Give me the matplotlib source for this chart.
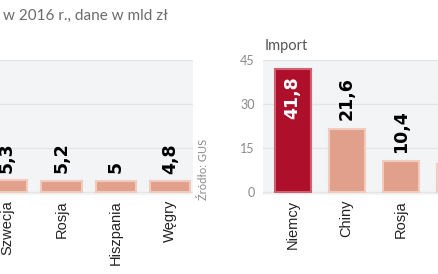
import matplotlib
matplotlib.use("Agg")
import matplotlib.pyplot as plt

# data
export_countries = ["Szwecja", "Rosja", "Hiszpania", "Węgry"]
export_values = [5.3, 5.2, 5.0, 4.8]
export_labels = ["5,3", "5,2", "5", "4,8"]

import_countries = ["Niemcy", "Chiny", "Rosja", "Włochy"]
import_values = [41.8, 21.6, 10.4, 9.6]
import_labels = ["41,8", "21,6", "10,4", "9,6"]
import_ticks = [0, 15, 30, 45]

BG = "#f3f4f5"
GRID = "#e3e5e7"
SALMON = "#e0a08b"
SALMON_EDGE = "#f1cbbd"
DARK_RED = "#ae0f2b"
GRAY = "#6b6b6b"

W, H = 439, 274
fig = plt.figure(figsize=(W / 100, H / 100), dpi=100)


def px(x0, y0, x1, y1):
    # pixel box -> figure fraction rect
    return [x0 / W, 1 - y1 / H, (x1 - x0) / W, (y1 - y0) / H]


def style(ax):
    ax.set_facecolor(BG)
    for s in ax.spines.values():
        s.set_visible(False)
    ax.tick_params(length=0)
    ax.set_xticks([])
    ax.yaxis.grid(True, color=GRID, lw=1)
    ax.set_axisbelow(True)


# export panel (cut off on the left)
ax1 = fig.add_axes(px(0, 60, 193, 195))
style(ax1)
xs = range(len(export_values))
ax1.bar(xs, export_values, width=0.74, color=SALMON, edgecolor=SALMON_EDGE, lw=1.5)
ax1.set_xlim(-0.13, 3.42)
ax1.set_ylim(-1.36, 60)
ax1.set_yticks([0, 20, 40, 60])
ax1.set_yticklabels([])
for x, v, lab, name in zip(xs, export_values, export_labels, export_countries):
    ax1.text(x, v + 3.5, lab, rotation=90, ha="center", va="bottom",
             fontsize=12.5, fontweight="bold", family="Liberation Sans Narrow")
    ax1.text(x, -3.6, name, rotation=90, ha="center", va="top",
             fontsize=10.5, family="Liberation Sans", color="#222222")

# import panel (cut off on the right)
ax2 = fig.add_axes(px(263, 60, 533, 195))
style(ax2)
xs = range(len(import_values))
cols = [DARK_RED] + [SALMON] * (len(import_values) - 1)
edges = ["#d0606f"] + [SALMON_EDGE] * (len(import_values) - 1)
ax2.bar(xs, import_values, width=0.67, color=cols, edgecolor=edges, lw=1.5)
ax2.set_xlim(-0.55, 4.45)
ax2.set_ylim(-1.02, 45)
ax2.set_yticks(import_ticks)
ax2.set_yticklabels([str(t) for t in import_ticks], fontsize=9,
                    color="#8a8a8a", family="Lato")
ax2.tick_params(axis="y", pad=6)
for i, (v, lab, name) in enumerate(zip(import_values, import_labels, import_countries)):
    if i == 0:
        ax2.text(i, v - 2.5, lab, rotation=90, ha="center", va="top", color="white",
                 fontsize=12.5, fontweight="bold", family="Liberation Sans Narrow")
    else:
        ax2.text(i, v + 3.0, lab, rotation=90, ha="center", va="bottom",
                 fontsize=12.5, fontweight="bold", family="Liberation Sans Narrow")
    ax2.text(i, -2.7, name, rotation=90, ha="center", va="top",
             fontsize=10.5, family="Liberation Sans", color="#222222")

fig.text(3 / W, 1 - 16 / H, "w 2016 r., dane w mld zł", fontsize=11,
         color=GRAY, family="Lato", va="center", ha="left")
fig.text(265 / W, 1 - 46 / H, "Import", fontsize=10.5, color="#555555",
         family="Lato", va="center", ha="left")
fig.text(204 / W, 1 - 169 / H, "Źródło: GUS", rotation=90, fontsize=8,
         color="#8a8a8a", family="Lato", va="center", ha="center")

fig.savefig("out.png", dpi=100)
